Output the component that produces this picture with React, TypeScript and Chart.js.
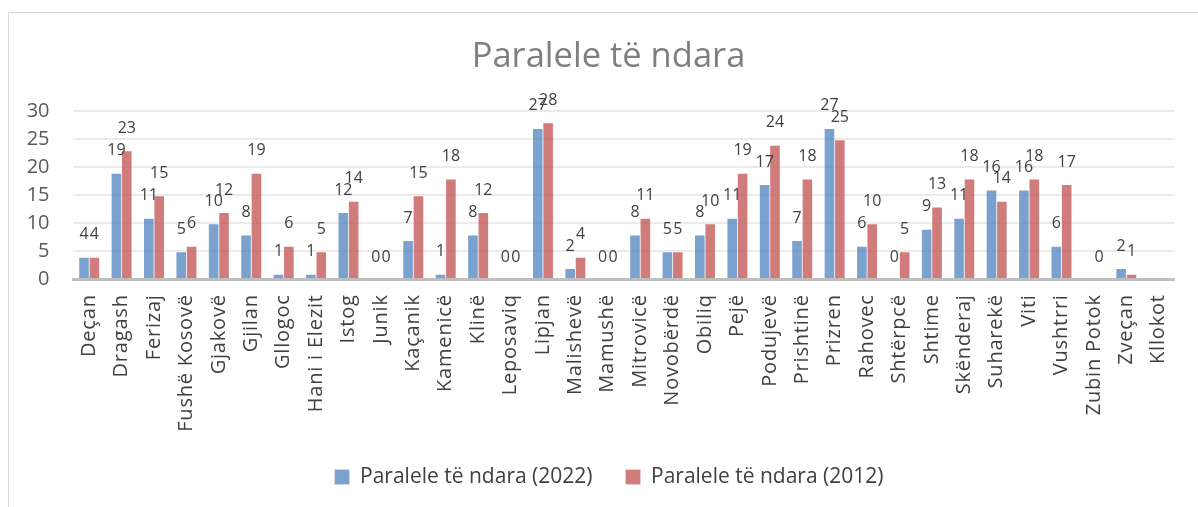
import React, { useEffect, useRef } from "react";
import { Chart, registerables } from "chart.js";

Chart.register(...registerables);

const categories = [
  "Deçan", "Dragash", "Ferizaj", "Fushë Kosovë", "Gjakovë", "Gjilan", "Gllogoc",
  "Hani i Elezit", "Istog", "Junik", "Kaçanik", "Kamenicë", "Klinë", "Leposaviq",
  "Lipjan", "Malishevë", "Mamushë", "Mitrovicë", "Novobërdë", "Obiliq", "Pejë",
  "Podujevë", "Prishtinë", "Prizren", "Rahovec", "Shtërpcë", "Shtime", "Skënderaj",
  "Suharekë", "Viti", "Vushtrri", "Zubin Potok", "Zveçan", "Kllokot",
];

const values2022: (number | null)[] = [
  4, 19, 11, 5, 10, 8, 1, 1, 12, 0, 7, 1, 8, 0, 27, 2, 0, 8, 5, 8, 11, 17, 7, 27, 6, 0,
  9, 11, 16, 16, 6, null, 2, null,
];

const values2012: (number | null)[] = [
  4, 23, 15, 6, 12, 19, 6, 5, 14, 0, 15, 18, 12, 0, 28, 4, 0, 11, 5, 10, 19, 24, 18, 25, 10, 5,
  13, 18, 14, 18, 17, 0, 1, null,
];

const seriesNames = ["Paralele të ndara (2022)", "Paralele të ndara (2012)"];
const titleText = "Paralele të ndara";
const yTicks = [0, 5, 10, 15, 20, 25, 30];

const FONT = "'Open Sans', 'Noto Sans', sans-serif";

const dataLabelPlugin = {
  id: "dataLabels",
  afterLayout(chart: any) {
    // nudge the centred title and legend to the right, as in the reference
    if (chart.titleBlock) chart.titleBlock.left += 28;
    if (chart.legend) chart.legend.left += 29;
  },
  afterDatasetsDraw(chart: any) {
    const ctx = chart.ctx;
    ctx.save();
    ctx.font = `16px ${FONT}`;
    ctx.fillStyle = "#404040";
    ctx.textAlign = "center";
    ctx.textBaseline = "middle";
    chart.data.datasets.forEach((ds: any, di: number) => {
      const meta = chart.getDatasetMeta(di);
      meta.data.forEach((el: any, i: number) => {
        const v = ds.data[i];
        if (v === null || v === undefined) return;
        ctx.fillText(String(v), el.x, el.y - 22);
      });
    });
    ctx.restore();
    // letter spacing for x-axis tick labels (drawn after datasets, z=1)
    ctx.letterSpacing = "0.8px";
  },
  afterDraw(chart: any) {
    chart.ctx.letterSpacing = "0px";
  },
};

export default function App() {
  const ref = useRef<HTMLCanvasElement | null>(null);

  useEffect(() => {
    if (!ref.current) return;
    const chart = new Chart(ref.current, {
      type: "bar",
      data: {
        labels: categories,
        datasets: [
          {
            label: seriesNames[0],
            data: values2022,
            backgroundColor: "rgba(79,129,189,0.75)",
            borderColor: "rgba(255,255,255,0.25)",
            borderWidth: 1,
            categoryPercentage: 0.64,
            barPercentage: 1.12,
          },
          {
            label: seriesNames[1],
            data: values2012,
            backgroundColor: "rgba(192,80,77,0.75)",
            borderColor: "rgba(255,255,255,0.25)",
            borderWidth: 1,
            categoryPercentage: 0.64,
            barPercentage: 1.12,
          },
        ],
      },
      options: {
        animation: false,
        responsive: false,
        maintainAspectRatio: false,
        layout: { padding: { left: 0, right: 18, top: 0, bottom: 9.5 } },
        plugins: {
          title: {
            display: true,
            text: titleText,
            color: "#7f7f7f",
            font: { family: FONT, size: 34.5, weight: "normal" },
            padding: { top: 23.4, bottom: 33.3 },
          },
          legend: {
            display: true,
            position: "bottom",
            labels: {
              color: "#404040",
              font: { family: FONT, size: 21 },
              boxWidth: 15,
              boxHeight: 15,
              padding: 33,
            },
          },
          tooltip: { enabled: false },
        },
        scales: {
          x: {
            grid: { display: false, drawTicks: false },
            border: { display: true, color: "#bfbfbf", width: 3 },
            ticks: {
              autoSkip: false,
              minRotation: 90,
              maxRotation: 90,
              padding: 15,
              color: "#404040",
              font: { family: FONT, size: 20 },
              z: 1,
            },
            afterFit: (s: any) => {
              s.height = 154.2;
            },
          },
          y: {
            min: 0,
            max: 30,
            grid: { color: "#ebebeb", lineWidth: 2, drawTicks: false },
            border: { display: false },
            ticks: {
              stepSize: 5,
              padding: 23.5,
              color: "#595959",
              font: { family: FONT, size: 20 },
              callback: (v: any) => (yTicks.includes(Number(v)) ? String(v) : ""),
            },
            afterFit: (s: any) => {
              s.width = 64;
            },
          },
        },
      },
      plugins: [dataLabelPlugin],
    });
    return () => chart.destroy();
  }, []);

  return (
    <div
      style={{
        position: "fixed",
        left: 8,
        top: 12,
        width: 1190,
        height: 495,
        borderLeft: "1px solid #d9d9d9",
        borderTop: "1px solid #d9d9d9",
        background: "#fff",
      }}
    >
      <canvas ref={ref} width={1189} height={494} style={{ display: "block", width: 1189, height: 494 }} />
    </div>
  );
}
